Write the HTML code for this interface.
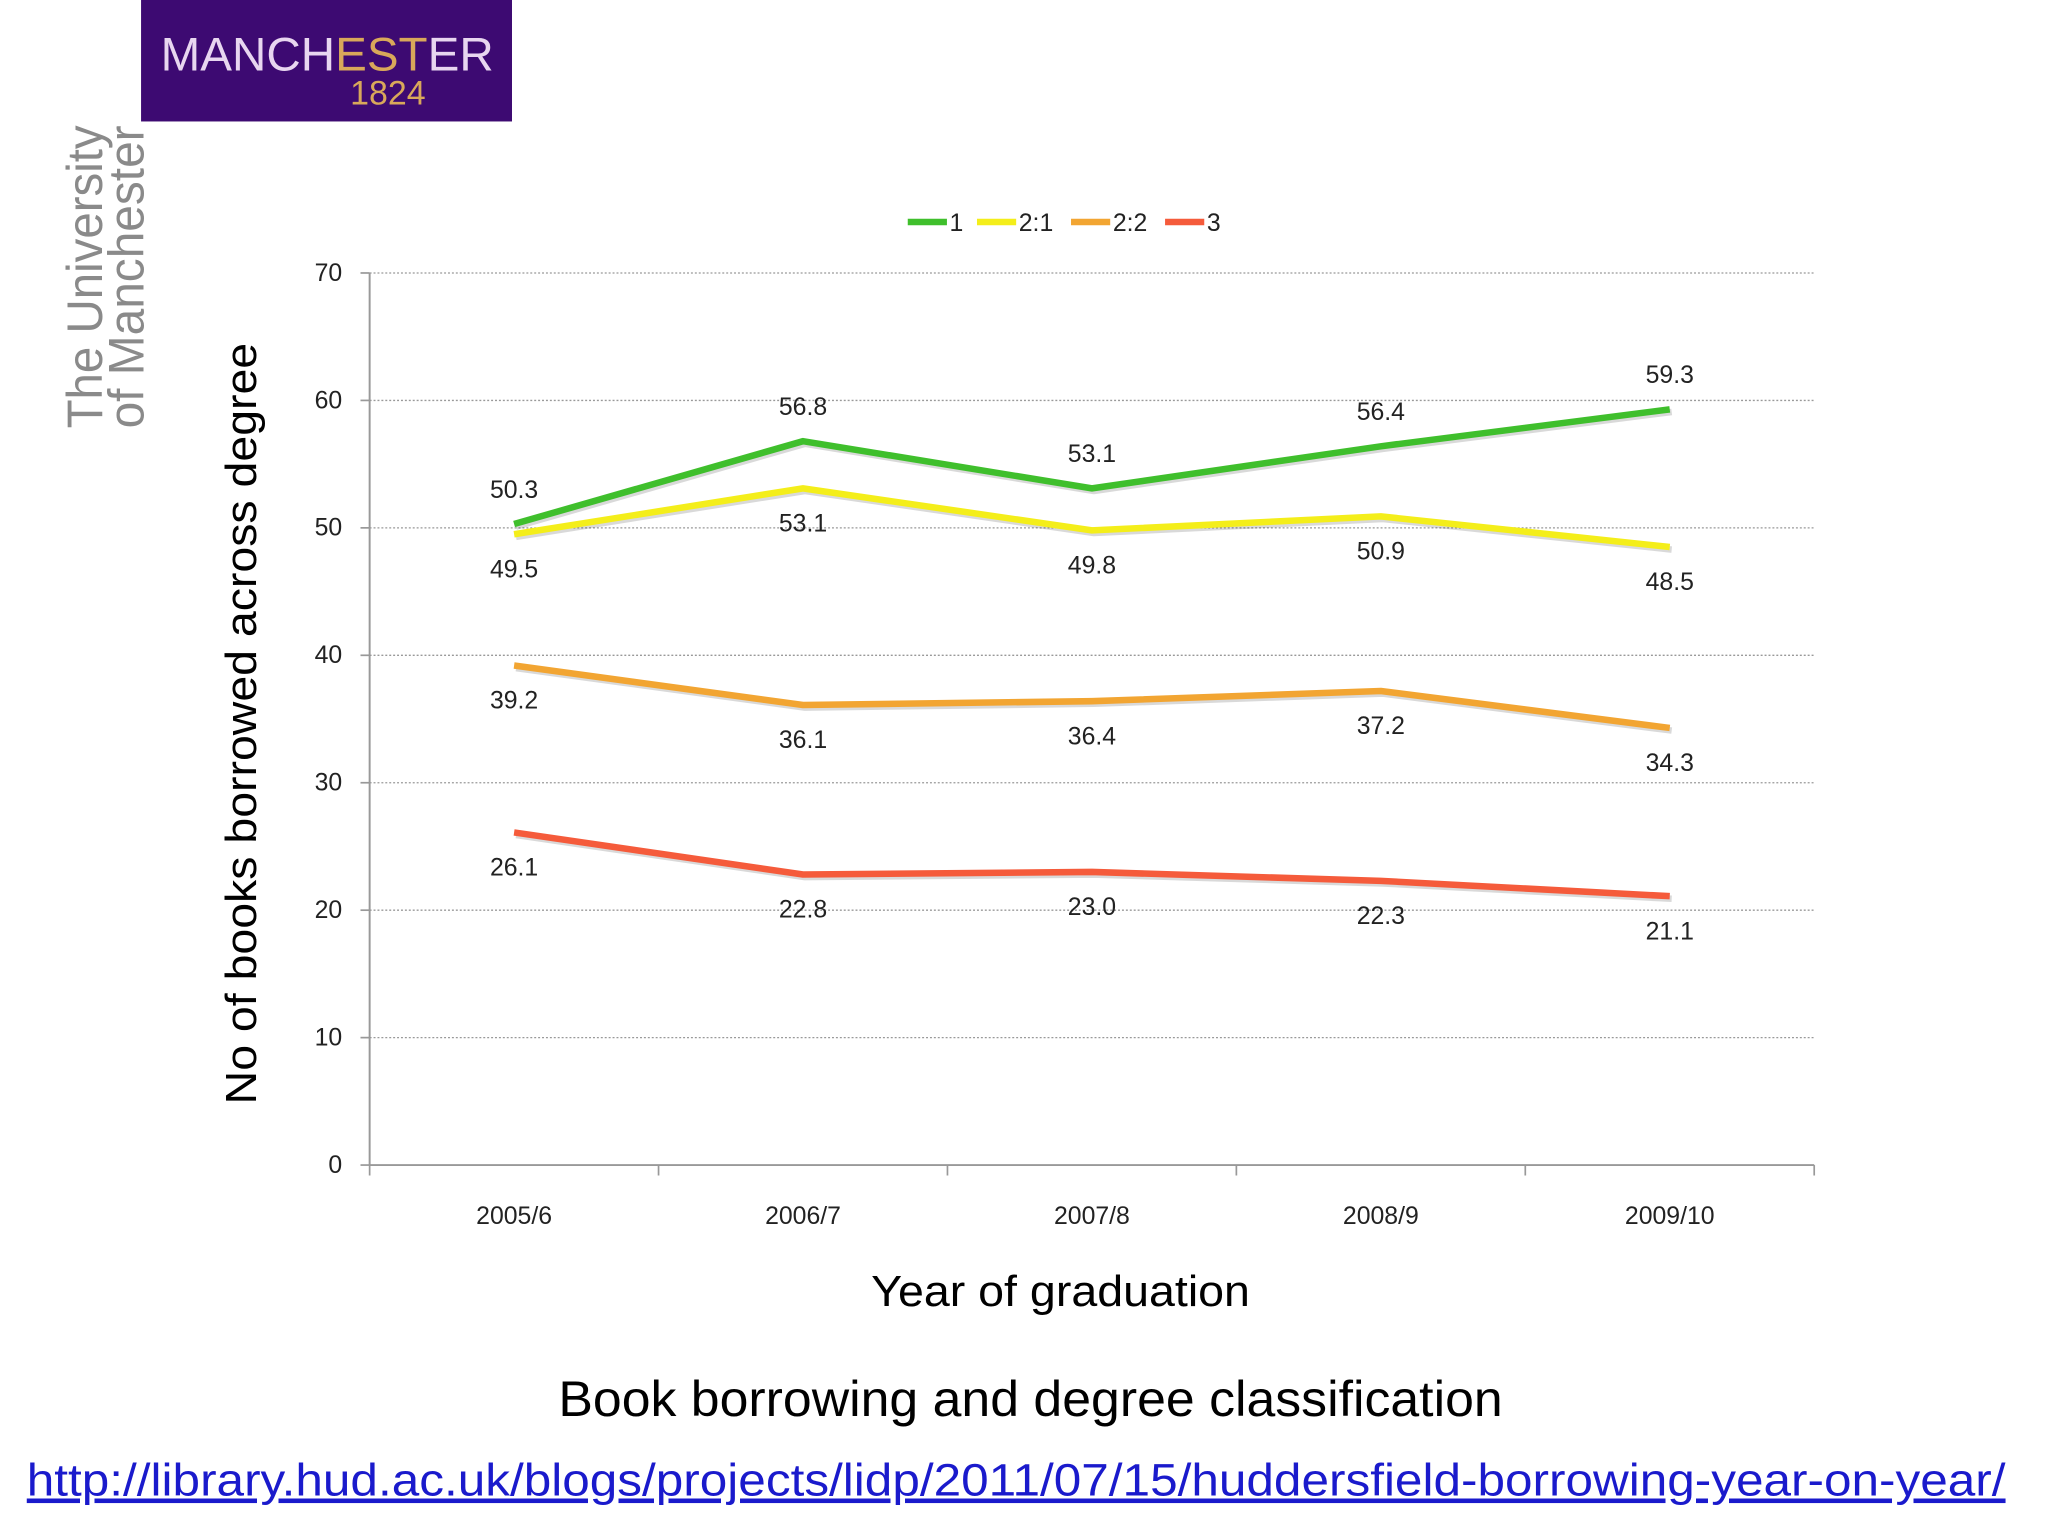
<!DOCTYPE html>
<html><head><meta charset="utf-8"><style>
html,body{margin:0;padding:0;background:#fff;width:2048px;height:1536px;overflow:hidden}
svg{display:block}
text{font-family:"Liberation Sans",sans-serif}
</style></head><body>
<svg id="chart" width="2048" height="1536" viewBox="0 0 1568 1176" xmlns="http://www.w3.org/2000/svg">
<g>
<rect x="108" y="0" width="284" height="93" fill="#3d0a72"/>
<text x="123" y="54" textLength="255" lengthAdjust="spacingAndGlyphs" font-family="Liberation Serif" font-size="36" fill="#e8d6f0">MANCH<tspan fill="#d9a85a">EST</tspan>ER</text>
<text x="297" y="80" text-anchor="middle" font-family="Liberation Serif" font-size="26" fill="#d9a85a">1824</text>
</g>
<g fill="#8a8a8a" font-size="38">
<text transform="translate(78,328) rotate(-90)" textLength="232" lengthAdjust="spacingAndGlyphs">The University</text>
<text transform="translate(110,328) rotate(-90)" textLength="232" lengthAdjust="spacingAndGlyphs">of Manchester</text>
</g>
<g id="grid"></g>
<g id="axes"></g>
<g id="series"></g>
<g id="legend"></g>
<text transform="translate(196,554) rotate(-90)" text-anchor="middle" font-size="33" fill="#000" textLength="583" lengthAdjust="spacingAndGlyphs">No of books borrowed across degree</text>
<text x="812" y="1000" text-anchor="middle" font-size="33" fill="#000" textLength="290" lengthAdjust="spacingAndGlyphs">Year of graduation</text>
<text x="789" y="1084" text-anchor="middle" font-size="38" fill="#000" textLength="723" lengthAdjust="spacingAndGlyphs">Book borrowing and degree classification</text>
<text x="778" y="1145" text-anchor="middle" font-size="35" fill="#1a1acc" text-decoration="underline" textLength="1515" lengthAdjust="spacingAndGlyphs">http://library.hud.ac.uk/blogs/projects/lidp/2011/07/15/huddersfield-borrowing-year-on-year/</text>
</svg>
<script>
const categories = ["2005/6","2006/7","2007/8","2008/9","2009/10"];
const seriesNames = ["1","2:1","2:2","3"];
const first = [50.3,56.8,53.1,56.4,59.3];
const upperSecond = [49.5,53.1,49.8,50.9,48.5];
const lowerSecond = [39.2,36.1,36.4,37.2,34.3];
const third = [26.1,22.8,23.0,22.3,21.1];
const yTicks = [0,10,20,30,40,50,60,70];
const colors = ["#3fbf2c","#f4ee1a","#f2a532","#f55b3b"];
const labelAbove = [true,false,false,false];

const NS="http://www.w3.org/2000/svg";
const X0=283,X1=1389,Y0=892,Y1=209,YMAX=70;
const band=(X1-X0)/categories.length;
const xS=i=>X0+band*(i+0.5);
const yS=v=>Y0-(v/YMAX)*(Y0-Y1);
function mk(tag,attrs,parent){const e=document.createElementNS(NS,tag);for(const k in attrs)e.setAttribute(k,attrs[k]);parent.appendChild(e);return e;}
const grid=document.getElementById('grid'),axes=document.getElementById('axes'),ser=document.getElementById('series'),leg=document.getElementById('legend');
yTicks.forEach(t=>{
  if(t>0){const g=mk('line',{x1:X0,x2:X1,y1:yS(t),y2:yS(t),stroke:'#999','stroke-width':1,'stroke-dasharray':'1.5,1.5'},grid);
  
  }
  const tk=mk('line',{x1:X0-7,x2:X0,y1:yS(t),y2:yS(t),stroke:'#999','stroke-width':1.3},axes);
  
  
  const lb=mk('text',{x:262,y:yS(t)+6,'text-anchor':'end','font-size':19,fill:'#222'},axes);
  lb.textContent=t;
  
  
});
const ya=mk('line',{x1:X0,x2:X0,y1:Y1,y2:Y0,stroke:'#999','stroke-width':1.5},axes);


const xa=mk('line',{x1:X0,x2:X1,y1:Y0,y2:Y0,stroke:'#999','stroke-width':1.5},axes);


for(let i=0;i<=categories.length;i++){
  const tk=mk('line',{x1:X0+band*i,x2:X0+band*i,y1:Y0,y2:Y0+8,stroke:'#999','stroke-width':1.3},axes);
  
  
}
categories.forEach((c,i)=>{
  const t=mk('text',{x:xS(i),y:937,'text-anchor':'middle','font-size':19,fill:'#222'},axes);
  t.textContent=c;
  
  
});
[first,upperSecond,lowerSecond,third].forEach((d,s)=>{
  const pts=d.map((v,i)=>xS(i)+','+yS(v)).join(' ');
  const sh=mk('polyline',{points:pts,fill:'none',stroke:'rgba(0,0,0,0.15)','stroke-width':5,transform:'translate(1.5,2)','stroke-linejoin':'round'},ser);
  
  
  const pl=mk('polyline',{points:pts,fill:'none',stroke:colors[s],'stroke-width':5,'stroke-linejoin':'round'},ser);
  
  
  d.forEach((v,i)=>{
    const t=mk('text',{x:xS(i),y:labelAbove[s]?yS(v)-20:yS(v)+33,'text-anchor':'middle','font-size':19,fill:'#222'},ser);
    t.textContent=v.toFixed(1);
    
    
  });
});
const legX=[695,748,820,892];
seriesNames.forEach((n,s)=>{
  const l=mk('line',{x1:legX[s],x2:legX[s]+30,y1:170,y2:170,stroke:colors[s],'stroke-width':5},leg);
  
  
  const t=mk('text',{x:legX[s]+32,y:177,'font-size':19,fill:'#222'},leg);
  t.textContent=n;
  
  
});
</script>
</body></html>
